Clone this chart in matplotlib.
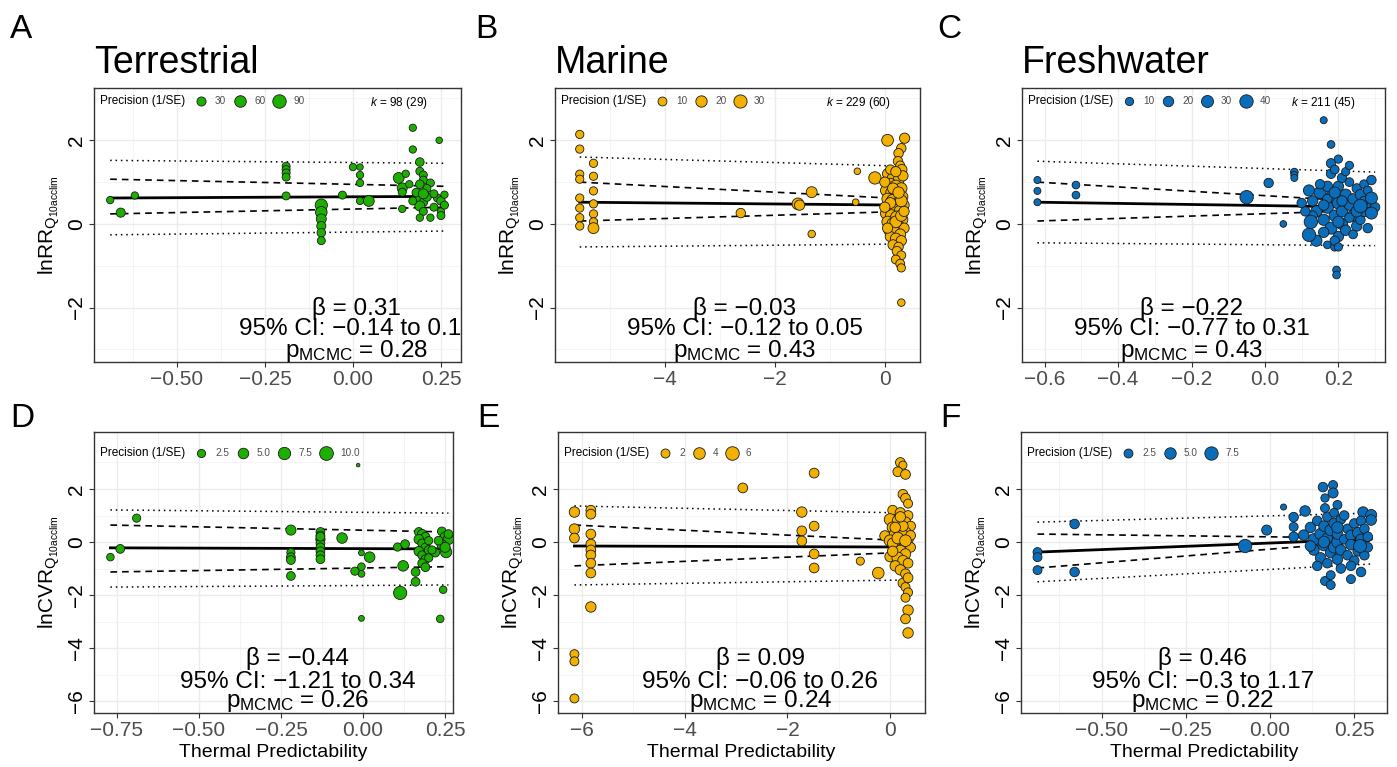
import numpy as np
import matplotlib
matplotlib.use('Agg')
import matplotlib.pyplot as plt
from matplotlib.transforms import blended_transform_factory

plt.rcParams['font.family'] = ['Liberation Sans', 'DejaVu Sans']
plt.rcParams['mathtext.fontset'] = 'custom'
plt.rcParams['mathtext.rm'] = 'Liberation Sans'
plt.rcParams['mathtext.it'] = 'Liberation Sans:italic'

# ---- data: (thermal predictability, effect size, precision 1/SE) ----
terr_rr = np.array([
    [-0.69, 0.57, 15], [-0.62, 0.68, 15], [-0.66, 0.27, 30],
    [-0.19, 1.38, 20], [-0.19, 1.30, 20], [-0.19, 1.22, 20], [-0.19, 1.12, 20], [-0.19, 0.67, 20],
    [-0.09, 0.45, 70], [-0.09, 0.28, 60], [-0.09, 0.12, 40], [-0.09, -0.05, 30], [-0.09, -0.21, 25],
    [-0.09, -0.40, 20],
    [-0.03, 0.69, 20], [0.0, 1.36, 15], [0.02, 1.36, 10], [0.02, 1.17, 15], [0.02, 0.98, 15],
    [0.02, 0.55, 15], [0.045, 0.55, 50],
    [0.17, 2.30, 15], [0.17, 1.78, 15], [0.245, 2.0, 10], [0.19, 1.48, 25], [0.19, 1.26, 20],
    [0.20, 1.17, 20], [0.20, 1.05, 20], [0.19, 0.95, 25], [0.22, 0.98, 20], [0.13, 1.10, 50],
    [0.14, 0.86, 40], [0.14, 0.76, 20], [0.19, 0.60, 30], [0.20, 0.52, 25], [0.19, 0.43, 40],
    [0.24, 0.62, 20], [0.25, 0.55, 25], [0.14, 0.36, 15], [0.20, 0.30, 20], [0.23, 0.40, 20],
    [0.25, 0.30, 15], [0.26, 0.70, 15], [0.18, 0.75, 25], [0.21, 0.85, 20], [0.16, 0.95, 15],
    [0.22, 0.15, 15], [0.25, 0.20, 20], [0.19, 0.15, 15], [0.21, 0.65, 30], [0.23, 0.72, 20],
    [0.17, 0.55, 20], [0.15, 1.20, 15], [0.26, 0.45, 20], [0.20, 0.72, 40],
])

mar_rr = np.array([
    [-5.55, 2.14, 8], [-5.55, 1.79, 8], [-5.55, 1.19, 8], [-5.55, 1.07, 8], [-5.55, 0.62, 8],
    [-5.55, 0.38, 8], [-5.55, 0.15, 8], [-5.55, -0.05, 8],
    [-5.3, 1.45, 8], [-5.3, 1.14, 8], [-5.3, 0.79, 8], [-5.3, 0.48, 8], [-5.3, 0.24, 8],
    [-5.3, 0.05, 8], [-5.3, -0.10, 18],
    [-2.62, 0.26, 12], [-1.58, 0.48, 22], [-1.55, 0.45, 15], [-1.33, 0.76, 18], [-1.33, -0.24, 6],
    [-0.5, 1.26, 4], [-0.53, 0.52, 4],
    [0.05, 2.0, 22], [0.36, 2.05, 15], [0.3, 1.81, 12], [0.25, 1.69, 12], [0.24, 1.5, 12],
    [0.28, 1.4, 10], [0.31, 1.3, 15], [-0.18, 1.1, 25], [0.05, 1.2, 15], [0.15, 1.1, 20],
    [0.25, 1.05, 18], [0.33, 1.15, 15], [0.1, 0.95, 22], [0.2, 0.9, 25], [0.3, 0.85, 20],
    [0.02, 0.8, 18], [0.12, 0.75, 20], [0.22, 0.7, 28], [0.32, 0.65, 18], [0.05, 0.6, 20],
    [0.15, 0.55, 30], [0.25, 0.5, 22], [0.35, 0.45, 15], [0.08, 0.4, 25], [0.18, 0.35, 20],
    [0.28, 0.3, 25], [0.02, 0.25, 18], [0.12, 0.2, 22], [0.22, 0.15, 30], [0.32, 0.1, 18],
    [0.05, 0.05, 20], [0.15, 0.0, 25], [0.25, -0.05, 20], [0.35, -0.1, 15], [0.08, -0.15, 18],
    [0.18, -0.2, 22], [0.28, -0.25, 18], [0.1, -0.3, 15], [0.2, -0.35, 18], [0.3, -0.4, 15],
    [0.15, -0.5, 15], [0.25, -0.55, 12], [0.22, -0.65, 12], [0.3, -0.75, 10], [0.2, -0.85, 10],
    [0.28, -0.95, 10], [0.3, -1.05, 8], [0.3, -1.88, 6], [0.0, 1.0, 15], [0.1, 1.3, 12],
    [0.2, 1.25, 15], [0.3, 0.55, 22], [0.1, 0.5, 18], [0.2, 0.05, 22], [0.3, 0.2, 20],
    [0.0, 0.4, 15], [0.05, -0.1, 15], [0.15, 0.85, 18], [0.25, 0.75, 20], [0.35, 0.3, 15],
])

fw_rr = np.array([
    [-0.62, 1.05, 6], [-0.62, 0.79, 6], [-0.62, 0.52, 6], [-0.515, 0.93, 8], [-0.515, 0.69, 8],
    [-0.05, 0.64, 40], [0.01, 0.98, 15], [0.05, 0.0, 5], [0.08, 1.24, 8], [0.08, 1.17, 6],
    [0.08, 1.1, 6], [0.16, 2.48, 6], [0.18, 1.9, 8], [0.195, -1.1, 8], [0.195, -1.22, 8],
    [0.17, -0.5, 8], [0.19, -0.55, 10],
    [0.1, 0.5, 15], [0.12, 0.8, 25], [0.13, 0.55, 20], [0.14, 0.3, 25], [0.15, 0.75, 30],
    [0.16, 0.1, 25], [0.17, 0.9, 20], [0.17, 0.4, 30], [0.18, 1.45, 15], [0.18, 1.2, 15],
    [0.18, 0.65, 25], [0.18, -0.1, 30], [0.19, 1.3, 12], [0.19, 0.2, 25], [0.2, 0.9, 20],
    [0.2, 0.5, 30], [0.2, -0.3, 20], [0.21, 1.1, 15], [0.21, 0.3, 25], [0.21, 0.0, 25],
    [0.22, 0.7, 25], [0.22, -0.15, 20], [0.23, 0.45, 20], [0.23, 1.0, 12], [0.24, 0.2, 25],
    [0.24, 0.6, 20], [0.25, 0.85, 15], [0.25, -0.05, 20], [0.26, 0.1, 15], [0.26, 0.7, 20],
    [0.27, 0.95, 12], [0.27, 0.3, 20], [0.28, 0.5, 15], [0.28, -0.1, 15], [0.28, 0.8, 12],
    [0.14, -0.4, 25], [0.16, -0.2, 20], [0.19, -0.4, 15], [0.22, 1.25, 10], [0.15, 0.95, 15],
    [0.13, 0.2, 15], [0.2, 0.05, 25], [0.17, 0.6, 15], [0.23, 0.15, 15], [0.3, 0.4, 15],
    [0.27, 0.55, 15], [0.25, 0.3, 25], [0.2, 1.55, 10], [0.23, 1.4, 10], [0.19, 0.75, 25],
    [0.11, 0.3, 15], [0.16, 0.45, 20], [0.21, 0.55, 20], [0.24, -0.25, 12], [0.2, -0.55, 10],
    [0.12, -0.26, 40], [0.125, 0.05, 40], [0.26, 0.43, 40], [0.29, 0.62, 30], [0.29, 0.26, 30],
    [0.29, 1.05, 15],
])

terr_cvr = np.array([
    [-0.77, -0.57, 2], [-0.74, -0.26, 3], [-0.69, 0.9, 2.5],
    [-0.22, 0.45, 4.5], [-0.22, -0.4, 2.5], [-0.22, -0.57, 3], [-0.22, -0.68, 3], [-0.22, -1.28, 3],
    [-0.13, 0.38, 3], [-0.13, 0.25, 3], [-0.13, 0.1, 3.5], [-0.13, -0.05, 3], [-0.13, -0.2, 3],
    [-0.13, -0.35, 3], [-0.13, -0.5, 3], [-0.13, -0.65, 3], [-0.13, 0.2, 3],
    [-0.064, 0.15, 5], [-0.005, -0.41, 1], [-0.005, -0.93, 2], [-0.005, -1.2, 1.5],
    [-0.025, -1.1, 2.5], [0.02, -0.57, 5], [-0.005, -2.88, 1], [-0.015, 2.9, 0.5],
    [0.105, -0.19, 2.5], [0.128, -0.08, 3], [0.113, -1.92, 9], [0.122, -0.9, 5],
    [0.16, -1.13, 3], [0.16, -1.5, 3],
    [0.17, 0.38, 3], [0.18, 0.3, 3.5], [0.19, 0.2, 3], [0.17, 0.1, 4], [0.18, -0.05, 3],
    [0.19, -0.2, 3], [0.17, -0.35, 4], [0.18, -0.5, 3], [0.19, -0.65, 3], [0.18, -0.8, 3],
    [0.19, -0.95, 3], [0.2, -0.3, 3], [0.2, 0.05, 2.5], [0.2, -0.6, 2.5],
    [0.244, -1.8, 2], [0.235, -2.9, 2], [0.253, -0.38, 6], [0.24, 0.4, 3], [0.25, 0.2, 4],
    [0.26, 0.1, 5], [0.24, -0.1, 4], [0.25, -0.2, 4.5], [0.23, 0.05, 3], [0.26, 0.3, 3],
    [0.22, -0.4, 3], [0.21, -0.3, 2.5],
])

mar_cvr = np.array([
    [-6.15, 1.13, 3], [-6.15, 0.49, 3], [-6.15, 0.15, 2.5], [-6.15, -4.23, 2], [-6.15, -4.5, 2],
    [-6.15, -5.9, 2],
    [-5.83, 1.2, 2.5], [-5.83, 1.05, 2.5], [-5.83, 0.3, 2.5], [-5.83, -0.08, 2.5], [-5.83, -0.3, 2.5],
    [-5.83, -0.49, 2.5], [-5.83, -0.8, 2.5], [-5.83, -1.17, 2.5], [-5.83, -2.45, 3],
    [-2.87, 2.04, 2.5], [-1.72, 1.13, 3], [-1.72, 0.42, 2.5], [-1.72, 0.04, 2.5], [-1.48, 2.6, 2.5],
    [-1.48, 0.6, 2.5], [-1.48, -0.45, 2.5], [-1.48, -0.98, 2.5], [-0.58, -0.72, 1.5],
    [-0.23, -1.17, 4], [-0.1, 0.23, 3],
    [0.2, 3.0, 2.5], [0.25, 2.9, 1.5], [0.15, 2.65, 2.5], [0.3, 2.55, 2.5], [0.25, 1.8, 2.5],
    [0.3, 1.65, 2.5], [0.35, 1.45, 2], [0.05, 1.2, 2.5], [0.2, 1.1, 3], [0.35, 1.0, 2.5],
    [0.0, 0.85, 4], [0.15, 0.8, 3.5], [0.3, 0.75, 3], [0.4, 0.6, 2.5], [0.05, 0.55, 3.5],
    [0.2, 0.45, 5], [0.3, 0.35, 4], [0.1, 0.3, 4], [0.25, 0.2, 6], [0.35, 0.1, 3],
    [0.0, 0.05, 4], [0.15, -0.05, 5], [0.3, -0.1, 3.5], [0.4, -0.2, 2.5], [0.1, -0.25, 4],
    [0.2, -0.35, 4.5], [0.3, -0.45, 3], [0.0, -0.55, 3], [0.15, -0.6, 4], [0.25, -0.7, 3],
    [0.35, -0.8, 2.5], [0.1, -0.9, 3], [0.2, -1.05, 3], [0.3, -1.2, 2.5], [0.25, -1.55, 2.5],
    [0.3, -1.7, 2], [0.35, -1.9, 2], [0.3, -2.1, 2], [0.35, -2.57, 3], [0.3, -2.9, 2.5],
    [0.35, -3.43, 3], [0.35, -1.35, 2.5], [0.05, -0.05, 3], [0.25, 0.6, 3], [0.4, 0.25, 2.5],
    [0.1, 0.55, 3], [0.2, 0.95, 3], [0.15, 0.15, 4], [0.3, 0.05, 4], [0.05, -0.35, 3],
])

fw_cvr = np.array([
    [-0.69, -0.38, 2.5], [-0.69, -0.57, 2.5], [-0.69, -1.06, 2.5], [-0.58, 0.68, 3], [-0.58, -1.13, 3],
    [-0.074, -0.15, 7.5], [-0.01, 0.45, 3.5], [0.04, 1.32, 0.8], [0.07, 0.94, 3], [0.07, 0.57, 2.5],
    [0.07, 0.2, 3], [0.104, 1.17, 4], [0.1, 0.26, 4], [0.157, 2.07, 3], [0.187, 2.15, 2.5],
    [0.187, 1.85, 3.5], [0.163, 1.66, 2], [0.163, 1.28, 2.5], [0.2, 1.4, 2.5], [0.163, -1.47, 2.5],
    [0.18, -1.62, 2.5], [0.24, -1.4, 2.5], [0.27, -1.13, 3], [0.276, 1.13, 4], [0.3, 1.02, 4.5],
    [0.3, 0.83, 4],
    [0.12, 0.55, 4], [0.13, 0.1, 5], [0.13, -0.3, 4], [0.14, 0.8, 3], [0.15, -0.6, 4],
    [0.15, 0.3, 5], [0.16, -0.1, 6], [0.16, 0.6, 4], [0.17, -0.8, 3], [0.17, 0.95, 3],
    [0.17, 0.15, 4], [0.18, -0.4, 4], [0.18, 0.45, 5], [0.19, 1.1, 2.5], [0.19, -0.2, 5],
    [0.19, 0.7, 4], [0.2, -0.65, 4], [0.2, 0.0, 5], [0.2, 0.3, 4], [0.21, -1.0, 3],
    [0.21, 0.85, 3], [0.21, -0.3, 4], [0.22, 0.1, 3], [0.23, 0.5, 3], [0.23, -0.5, 3],
    [0.24, 0.25, 4], [0.24, -0.1, 4], [0.25, 0.7, 3], [0.25, -0.7, 3], [0.26, 0.35, 4],
    [0.26, -0.35, 3], [0.27, 0.1, 4], [0.27, 0.8, 3], [0.28, -0.5, 3], [0.28, 0.5, 3],
    [0.29, -0.2, 3], [0.29, 0.2, 3], [0.14, -0.9, 3], [0.18, -1.25, 2.5], [0.22, 1.0, 3],
    [0.16, 0.0, 5], [0.2, 0.55, 5], [0.12, -0.15, 4], [0.24, -0.9, 3], [0.267, -0.15, 7],
])

# meta-regression lines at min / max predictability: [left, right]
fit_mid = [[0.62, 0.66], [0.52, 0.45], [0.52, 0.40], [-0.22, -0.26], [-0.15, -0.19], [-0.38, 0.11]]
ci_hi = [[1.07, 0.90], [1.00, 0.60], [1.00, 0.52], [0.64, 0.38], [0.64, 0.04], [0.30, 0.15]]
ci_lo = [[0.24, 0.40], [0.07, 0.30], [0.07, 0.33], [-1.13, -0.93], [-0.90, -0.38], [-0.98, 0.04]]
pi_hi = [[1.52, 1.45], [1.60, 1.38], [1.50, 1.24], [1.21, 1.09], [1.36, 1.09], [0.75, 1.09]]
pi_lo = [[-0.26, -0.17], [-0.55, -0.48], [-0.45, -0.52], [-1.70, -1.62], [-1.62, -1.43], [-1.50, -0.83]]

beta = ['0.31', '\u22120.03', '\u22120.22', '\u22120.44', '0.09', '0.46']
ci_txt = ['\u22120.14 to 0.17', '\u22120.12 to 0.05', '\u22120.77 to 0.31',
          '\u22121.21 to 0.34', '\u22120.06 to 0.26', '\u22120.3 to 1.17']
p_mcmc = ['0.28', '0.43', '0.43', '0.26', '0.24', '0.22']
stat_x = [0.01, -2.55, -0.2, -0.2, -2.53, -0.2]
k_txt = ['98 (29)', '229 (60)', '211 (45)', None, None, None]

legend_vals = [[30, 60, 90], [10, 20, 30], [10, 20, 30, 40], [2.5, 5.0, 7.5, 10.0], [2, 4, 6], [2.5, 5.0, 7.5]]
legend_labs = [['30', '60', '90'], ['10', '20', '30'], ['10', '20', '30', '40'],
               ['2.5', '5.0', '7.5', '10.0'], ['2', '4', '6'], ['2.5', '5.0', '7.5']]
prec_range = [(2, 100), (1, 35), (1, 45), (0.5, 10.5), (0.3, 6.5), (0.3, 8.5)]

titles = ['Terrestrial', 'Marine', 'Freshwater', None, None, None]
letters = ['A', 'B', 'C', 'D', 'E', 'F']
colors = ['#1DAF00', '#F2B100', '#0A6DBA'] * 2
xticks = [[-0.5, -0.25, 0, 0.25], [-4, -2, 0], [-0.6, -0.4, -0.2, 0.0, 0.2],
          [-0.75, -0.5, -0.25, 0, 0.25], [-6, -4, -2, 0], [-0.5, -0.25, 0, 0.25]]
xdec = [2, 0, 1, 2, 0, 2]
xlims = [(-0.736, 0.307), (-6.0, 0.64), (-0.662, 0.327), (-0.82, 0.274), (-6.47, 0.68), (-0.739, 0.347)]
ylims = [(-3.3, 3.25)] * 3 + [(-6.45, 4.15)] * 3
yticks = [[-2, 0, 2]] * 3 + [[-6, -4, -2, 0, 2]] * 3

data = [terr_rr, mar_rr, fw_rr, terr_cvr, mar_cvr, fw_cvr]

# ---- layout (pixels: left, top, right, bottom) ----
W, H = 1397, 767
boxes = [(94, 88, 461, 362), (555, 88, 920, 362), (1022, 88, 1385, 362),
         (94, 432, 453, 713), (558, 432, 925, 713), (1021, 432, 1387, 713)]

fig = plt.figure(figsize=(W / 100, H / 100), dpi=100)


def diam(v, lo, hi):
    f = np.clip((np.asarray(v, float) - lo) / (hi - lo), 0, 1)
    return 3.5 + 10.5 * np.sqrt(f)


def minor_between(ticks, lim):
    step = ticks[1] - ticks[0]
    m = np.arange(ticks[0] - step / 2, lim[1], step)
    return m[(m > lim[0]) & (m < lim[1])]


for i in range(6):
    l, t, r, b = boxes[i]
    ax = fig.add_axes([l / W, 1 - b / H, (r - l) / W, (b - t) / H])
    d = data[i]
    col = colors[i]
    lo, hi = prec_range[i]
    xs = [d[:, 0].min(), d[:, 0].max()]

    ax.plot(xs, pi_hi[i], color='black', lw=1.1, ls=(0, (1, 2.5)), zorder=2)
    ax.plot(xs, pi_lo[i], color='black', lw=1.1, ls=(0, (1, 2.5)), zorder=2)
    ax.plot(xs, ci_hi[i], color='black', lw=1.2, ls=(0, (4, 3)), zorder=2)
    ax.plot(xs, ci_lo[i], color='black', lw=1.2, ls=(0, (4, 3)), zorder=2)
    ax.plot(xs, fit_mid[i], color='black', lw=2.0, zorder=2)

    sz = (diam(d[:, 2], lo, hi) * 0.72) ** 2
    ax.scatter(d[:, 0], d[:, 1], s=sz, c=col, edgecolors='#1a1a1a', linewidths=0.6, zorder=3)

    ax.set_xlim(xlims[i])
    ax.set_ylim(ylims[i])
    ax.set_xticks(xticks[i])
    ax.set_xticklabels([f'{v:.{xdec[i]}f}'.replace('-', '\u2212') for v in xticks[i]])
    ax.set_yticks(yticks[i])
    ax.set_yticklabels([str(v).replace('-', '\u2212') for v in yticks[i]])
    ax.set_xticks(minor_between(xticks[i], xlims[i]), minor=True)
    ax.set_yticks(minor_between(yticks[i], ylims[i]), minor=True)
    ax.tick_params(which='minor', length=0)
    ax.tick_params(axis='x', which='major', labelsize=15, labelcolor='#4D4D4D', color='#333333',
                   length=3.5, pad=2)
    ax.tick_params(axis='y', which='major', labelsize=15, labelcolor='black', color='#333333',
                   length=3.5, pad=2, labelrotation=90)
    for lab in ax.get_yticklabels():
        lab.set_va('center')
    ax.grid(True, which='major', color='#EBEBEB', lw=1.0)
    ax.grid(True, which='minor', color='#F3F3F3', lw=0.6)
    ax.set_axisbelow(True)
    for sp in ax.spines.values():
        sp.set_color('#333333')
        sp.set_linewidth(1.0)

    if i < 3:
        ax.set_ylabel(r'$\mathregular{lnRR_{Q_{10acclim}}}$', fontsize=15, labelpad=4)
    else:
        ax.set_ylabel(r'$\mathregular{lnCVR_{Q_{10acclim}}}$', fontsize=15, labelpad=4)
        ax.set_xlabel('Thermal Predictability', fontsize=14, labelpad=3)

    # statistics
    tr = blended_transform_factory(ax.transData, ax.transAxes)
    if i < 3:
        ys = [0.172, 0.099, 0.018]
    else:
        ys = [0.171, 0.089, 0.021]
    ax.text(stat_x[i], ys[0], '\u03b2 = ' + beta[i], transform=tr, ha='center', va='baseline',
            fontsize=17.5, clip_on=True, zorder=5)
    ax.text(stat_x[i], ys[1], '95% CI: ' + ci_txt[i], transform=tr, ha='center', va='baseline',
            fontsize=17.5, clip_on=True, zorder=5)
    ax.text(stat_x[i], ys[2], r'$\mathregular{p_{MCMC}}$ = ' + p_mcmc[i], transform=tr,
            ha='center', va='baseline', fontsize=17.5, clip_on=True, zorder=5)

    if k_txt[i] is not None:
        ax.text(0.83, 0.945, r'$\mathit{k}$ = ' + k_txt[i], transform=ax.transAxes,
                ha='center', va='center', fontsize=8.5)

    # size legend, laid out in pixels from the panel's top-left corner
    aw, ah = r - l, b - t
    ly = 1 - (13 if i < 3 else 21) / ah
    ax.text(6 / aw, ly, 'Precision (1/SE)', transform=ax.transAxes, ha='left', va='center',
            fontsize=8.5)
    cx = 107.0
    for v, lab in zip(legend_vals[i], legend_labs[i]):
        dd = float(diam(v, lo, hi))
        ax.scatter([cx / aw], [ly], s=(dd * 0.72) ** 2, c=col, edgecolors='#1a1a1a',
                   linewidths=0.6, transform=ax.transAxes, clip_on=False, zorder=6)
        tx = cx + 14
        ax.text(tx / aw, ly, lab, transform=ax.transAxes, ha='left', va='center',
                fontsize=7.2, color='#4D4D4D')
        wlab = 5.5 * sum(ch.isdigit() for ch in lab) + 2.7 * lab.count('.')
        cx = tx + wlab + 14

    if titles[i] is not None:
        ax.annotate(titles[i], xy=(0, 1), xycoords='axes fraction', xytext=(0, 11),
                    textcoords='offset points', ha='left', va='baseline', fontsize=27)

letter_pos = [(10, 38), (475, 38), (937, 38), (10, 427), (477, 427), (940, 427)]
for (px, py), let in zip(letter_pos, letters):
    fig.text(px / W, 1 - py / H, let, fontsize=24, ha='left', va='baseline')

fig.savefig('out.png', dpi=100)
